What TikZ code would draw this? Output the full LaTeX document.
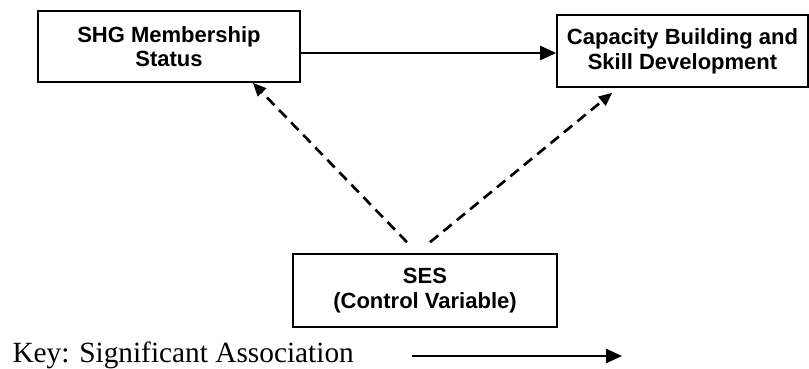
\documentclass[tikz,border=0pt]{standalone}
\usepackage{fontspec}
\setmainfont{Liberation Serif}
\setsansfont{Liberation Sans}
\usetikzlibrary{arrows.meta,calc}

\tikzset{every picture/.style={line width=0.75pt}}
\tikzset{
  varbox/.style={draw, line width=1.2pt, align=center, inner sep=0pt,
    font=\sffamily\bfseries\fontsize{16.5}{18.5}\selectfont},
  sigarrow/.style={line width=1.8pt, -{Triangle[length=12pt,width=10.5pt]}},
  ctrlarrow/.style={line width=2pt, dash pattern=on 8pt off 5pt,
    -{Triangle[length=10pt,width=8.5pt]}}
}

\begin{document}
\begin{tikzpicture}[x=0.75pt,y=0.75pt,yscale=-1,xscale=1]
\useasboundingbox (0,0) rectangle (809,368);

% Variable boxes
\node (shg) at (169,46.5) [varbox, minimum width=196.5pt, minimum height=53.25pt] {SHG Membership\\Status};
\node (cap) at (682.5,51) [varbox, minimum width=188.25pt, minimum height=54pt] {Capacity Building and\\Skill Development};
\node (ses) at (425,290.5) [varbox, minimum width=198pt, minimum height=54.75pt] {SES\\(Control Variable)};

% Significant association
\draw [sigarrow] ($(shg.east)+(0,6.5)$) -- ($(cap.west)+(0,2)$);

% Control variable links
\draw [ctrlarrow] ($(ses.north)+(-18,-11)$) -- ($(shg.south east)+(-48,0)$);
\draw [ctrlarrow] ($(ses.north)+(5,-11)$) -- ($(cap.south west)+(56,5)$);

% Key
\node (key) at (12,362) [anchor=base west, inner sep=0pt, font=\fontsize{22}{24}\selectfont] {Key: Significant Association};
\coordinate (keystart) at (412,356);
\coordinate (keyend) at (622,356);
\draw [sigarrow] (keystart) -- (keyend);

\end{tikzpicture}
\end{document}
